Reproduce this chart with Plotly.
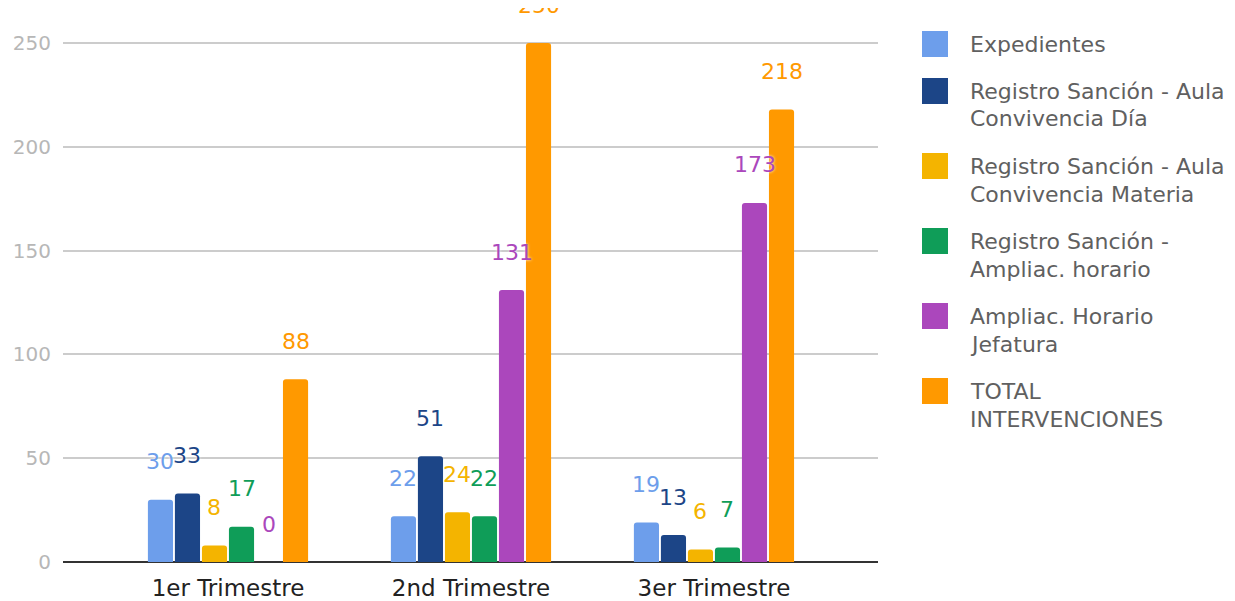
import plotly.graph_objects as go

# data
trimestres = ['1er Trimestre', '2nd Trimestre', '3er Trimestre']
series = [
    'Expedientes',
    'Registro Sanción - Aula<br>Convivencia Día',
    'Registro Sanción - Aula<br>Convivencia Materia',
    'Registro Sanción -<br>Ampliac. horario',
    'Ampliac. Horario<br>Jefatura',
    'TOTAL<br>INTERVENCIONES',
]
expedientes = [30, 22, 19]
aula_dia = [33, 51, 13]
aula_materia = [8, 24, 6]
ampliac_horario = [17, 22, 7]
ampliac_jefatura = [0, 131, 173]
total = [88, 250, 218]

values = [expedientes, aula_dia, aula_materia, ampliac_horario, ampliac_jefatura, total]
colors = ['#6d9eeb', '#1c4587', '#f4b400', '#0f9d58', '#ab47bc', '#ff9900']

FONT = 'DejaVu Sans'
W, H = 1227, 593
L, R, T, B = 55, 357, 0, 39
BARGAP = 0.333
slot = (1 - BARGAP) / len(series)

fig = go.Figure()

for i, (name, vals) in enumerate(zip(series, values)):
    fig.add_trace(
        go.Bar(
            x=trimestres,
            y=vals,
            name=name,
            marker_color=colors[i],
            marker_line_width=0,
            showlegend=False,
        )
    )
    # value labels above each bar
    for j, v in enumerate(vals):
        fig.add_annotation(
            x=j + (i - (len(series) - 1) / 2) * slot,
            y=v,
            xref='x', yref='y',
            text=str(v),
            showarrow=False,
            yanchor='middle',
            yshift=38,
            font=dict(size=22, color=colors[i], family=FONT,
                      shadow='0px 0px 3px white'),
        )

# custom legend (big squares like the original)
def px_x(p):
    return (p - L) / (W - L - R)

def px_y(p):
    return 1 - (p - T) / (H - T - B)

y = 36
for name, col in zip(series, colors):
    fig.add_shape(
        type='rect', xref='paper', yref='paper',
        x0=px_x(914), x1=px_x(940), y0=px_y(y - 13), y1=px_y(y + 13),
        fillcolor=col, line_width=0,
    )
    lines = name.split('<br>')
    for k, ln in enumerate(lines):
        fig.add_annotation(
            x=px_x(960), y=px_y(y + 28 * k),
            xref='paper', yref='paper',
            text=ln, showarrow=False,
            xanchor='left', yanchor='middle',
            font=dict(size=22, color='#606060', family=FONT),
        )
    y += 47 + 28 * (len(lines) - 1)

fig.update_layout(
    width=W, height=H,
    margin=dict(l=L, r=R, t=T, b=B),
    barmode='group',
    bargap=BARGAP,
    bargroupgap=0.07,
    barcornerradius=3,
    plot_bgcolor='white',
    paper_bgcolor='white',
    font=dict(family=FONT),
    showlegend=False,
    xaxis=dict(
        range=[-0.679, 2.675],
        showgrid=False,
        tickfont=dict(size=23, color='#222222'),
        ticks='',
        ticklabelstandoff=10,
    ),
    yaxis=dict(
        range=[0, 266.9],
        tickvals=[0, 50, 100, 150, 200, 250],
        gridcolor='#cccccc',
        gridwidth=2,
        zeroline=True,
        zerolinecolor='#333333',
        zerolinewidth=2,
        tickfont=dict(size=20, color='#b7b7b7'),
        ticklabelstandoff=11,
    ),
)

fig.write_html('out.html')
